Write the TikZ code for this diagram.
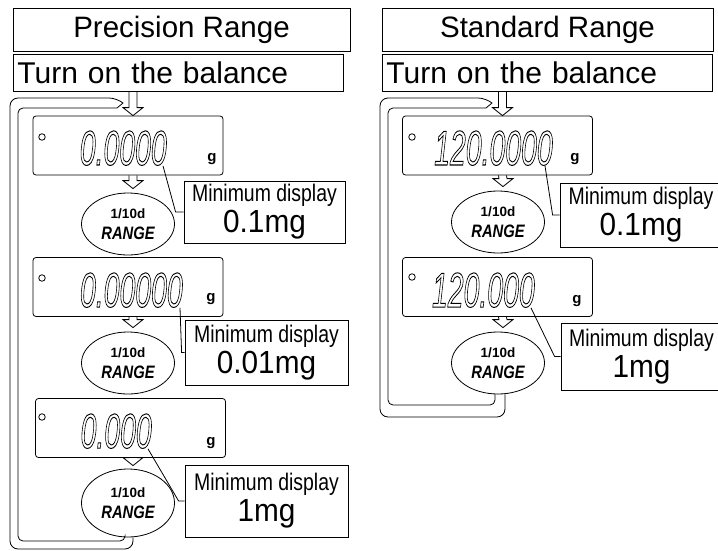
\documentclass[tikz,border=0pt]{standalone}
\usepackage{fontspec}
\setmainfont{Liberation Sans}
\usetikzlibrary{shapes.geometric,calc}

% hollow glyphs for the LCD readout
\newcommand{\lcdtext}[1]{\special{pdf:literal direct 1 Tr 1 w}#1\special{pdf:literal direct 0 Tr}}

\begin{document}
\begin{tikzpicture}[
    x=1pt, y=-1pt,
    line width=0.8pt,
    title/.style={draw, minimum height=43, inner sep=0, font=\fontsize{29.5}{32}\selectfont},
    power/.style={draw, anchor=west, minimum height=37, text width=322, inner xsep=4, align=left, font=\fontsize{30}{32}\selectfont},
    display/.style={draw, rounded corners=3, minimum width=190, minimum height=59},
    lamp/.style={draw, circle, inner sep=0, minimum size=6.5},
    lcd/.style={inner sep=0, anchor=base east, xscale=0.58, font=\itshape\fontsize{49}{49}\selectfont},
    unit/.style={inner sep=0, anchor=base, font=\bfseries\fontsize{15}{15}\selectfont},
    rangekey/.style={draw, ellipse, minimum width=93, minimum height=62, inner sep=0, align=center, font=\fontsize{18}{21}\selectfont},
    callout/.style={draw, align=center, inner sep=0, font=\fontsize{32}{31}\selectfont},
    hollowarrow/.style={to path={($(\tikztostart)+(-4,0)$) -- ($(\tikztotarget)+(-4,-8)$) -- ($(\tikztotarget)+(-10,-8)$) -- (\tikztotarget) -- ($(\tikztotarget)+(10,-8)$) -- ($(\tikztotarget)+(4,-8)$) -- ($(\tikztostart)+(4,0)$)}}
]
\useasboundingbox (0,0) rectangle (718,551);

% Titles
\node[title, minimum width=337] (titleL) at (181.5,29.5) {Precision Range};
\node[title, minimum width=331] (titleR) at (547.5,29.5) {Standard Range};

\node[power] (powerL) at (13,72.5) {Turn on the balance};
\node[power] (powerR) at (382,72.5) {Turn on the balance};

% Precision range displays
\node[display] (dispL1) at (128,145.5) {};
\node[display] (dispL2) at (128,287) {};
\node[display] (dispL3) at (130.5,428) {};

\node[lamp] (lampL1) at (42,137) {};
\node[lamp] (lampL2) at (42,278) {};
\node[lamp] (lampL3) at (42,417) {};

\node[lcd] (digL1) at (167,165) {\lcdtext{0.0000}};
\node[lcd] (digL2) at (183,307) {\lcdtext{0.00000}};
\node[lcd] (digL3) at (152,448) {\lcdtext{0.000}};

\node[unit] (unitL1) at (212,161) {g};
\node[unit] (unitL2) at (211,301) {g};
\node[unit] (unitL3) at (211,445) {g};

% Standard range displays
\node[display] (dispR1) at (497.5,145.5) {};
\node[display] (dispR2) at (497.5,287) {};

\node[lamp] (lampR1) at (412,137) {};
\node[lamp] (lampR2) at (412,277) {};

\node[lcd] (digR1) at (553,165) {\lcdtext{120.0000}};
\node[lcd] (digR2) at (535,307) {\lcdtext{120.000}};

\node[unit] (unitR1) at (575,161) {g};
\node[unit] (unitR2) at (577,303) {g};

% RANGE keys
\node[rangekey] (rangeL1) at (128,224) {{\fontsize{13.5}{21}\selectfont\bfseries 1/10d}\\{\bfseries\itshape\scalebox{0.82}[1]{RANGE}}};
\node[rangekey] (rangeL2) at (128,363) {{\fontsize{13.5}{21}\selectfont\bfseries 1/10d}\\{\bfseries\itshape\scalebox{0.82}[1]{RANGE}}};
\node[rangekey, minimum height=68] (rangeL3) at (128,503) {{\fontsize{13.5}{21}\selectfont\bfseries 1/10d}\\{\bfseries\itshape\scalebox{0.82}[1]{RANGE}}};
\node[rangekey] (rangeR1) at (498,222) {{\fontsize{13.5}{21}\selectfont\bfseries 1/10d}\\{\bfseries\itshape\scalebox{0.82}[1]{RANGE}}};
\node[rangekey] (rangeR2) at (498,363) {{\fontsize{13.5}{21}\selectfont\bfseries 1/10d}\\{\bfseries\itshape\scalebox{0.82}[1]{RANGE}}};

% Minimum display notes
\node[callout, minimum width=161, minimum height=62] (callL1) at (264.5,212) {{\fontsize{24}{31}\selectfont\scalebox{0.81}[1]{Minimum display}}\\\scalebox{0.93}[1]{0.1mg}};
\node[callout, minimum width=163, minimum height=65] (callL2) at (266.5,352.5) {{\fontsize{24}{31}\selectfont\scalebox{0.81}[1]{Minimum display}}\\\scalebox{0.93}[1]{0.01mg}};
\node[callout, minimum width=163, minimum height=72] (callL3) at (266.5,501) {{\fontsize{24}{31}\selectfont\scalebox{0.81}[1]{Minimum display}}\\\scalebox{0.93}[1]{1mg}};
\node[callout, minimum width=162, minimum height=64] (callR1) at (641,215) {{\fontsize{24}{31}\selectfont\scalebox{0.81}[1]{Minimum display}}\\\scalebox{0.93}[1]{0.1mg}};
\node[callout, minimum width=161, minimum height=67] (callR2) at (641.5,356.5) {{\fontsize{24}{31}\selectfont\scalebox{0.81}[1]{Minimum display}}\\\scalebox{0.93}[1]{1mg}};

% Flow arrows
\draw[hollowarrow] ($(dispL1.north |- powerL.south)+(5,0)$) to ($(dispL1.north)+(5,0)$);
\draw[hollowarrow] ($(dispL1.south)+(5,0)$) to ($(rangeL1.north)+(5,-4)$);
\draw[hollowarrow] ($(dispL2.south)+(5,0)$) to ($(rangeL2.north)+(5,-4)$);
\draw[hollowarrow] ($(dispL3.south)+(2.5,0)$) to ($(rangeL3.north)+(5,-3)$);

\draw[hollowarrow] ($(dispR1.north |- powerR.south)+(5,0)$) to ($(dispR1.north)+(5,0)$);
\draw[hollowarrow] ($(dispR1.south)+(5,0)$) to ($(rangeR1.north)+(5,-4)$);
\draw[hollowarrow] ($(dispR2.south)+(5,0)$) to ($(rangeR2.north)+(5,-4)$);

% Leader lines
\draw ($(digL1.south east)+(-4,0)$) -- ($(callL1.west)+(-8,0)$) -- (callL1.west);
\draw ($(digL2.south east)+(-3,0)$) -- ($(callL2.west)+(-3,0)$) -- (callL2.west);
\draw ($(digL3.south east)+(-4,0)$) -- ($(callL3.west)+(-6,0)$) -- (callL3.west);
\draw ($(digR1.south east)+(-8,0)$) -- ($(callR1.west)+(-7,0)$) -- (callR1.west);
\draw ($(digR2.south east)+(-4,0)$) -- ($(callR2.west)+(-6,0)$) -- (callR2.west);

% Return loops
\draw[rounded corners=8] ($(rangeL3.south)+(5,0)$) -- (133,549) -- (10,549) -- (10,98) -- (117,98)
    [sharp corners] -- (123,103) -- (117,108)
    [rounded corners=5] -- (18,108) -- (18,541) -- (125,541) -- ($(rangeL3.south)+(-3,0)$);
\draw[rounded corners=8] ($(rangeR2.south)+(7,0)$) -- (505,417) -- (380,417) -- (380,98) -- (486,98)
    [sharp corners] -- (492,103) -- (486,108)
    [rounded corners=5] -- (388,108) -- (388,405) -- (495,405) -- ($(rangeR2.south)+(-3,0)$);

\end{tikzpicture}
\end{document}
